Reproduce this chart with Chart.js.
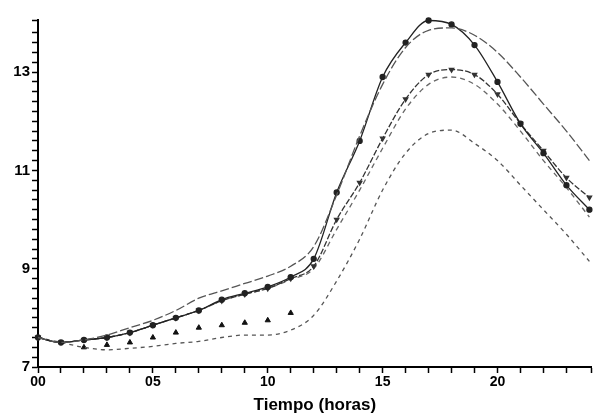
<!DOCTYPE html>
<html>
<head>
<meta charset="utf-8">
<script src="https://cdn.jsdelivr.net/npm/chart.js@4/dist/chart.umd.min.js"></script>
<style>
  html, body { margin: 0; padding: 0; background: #fff; }
  #wrap { width: 597px; height: 416px; }
</style>
</head>
<body>
<div id="wrap"><canvas id="chart"></canvas></div>
<script>
// horas del dia
let hours = [0,1,2,3,4,5,6,7,8,9,10,11,12,13,14,15,16,17,18,19,20,21,22,23,24];

// series
let topDashed = [7.6,7.5,7.55,7.65,7.8,7.95,8.15,8.4,8.55,8.7,8.85,9.05,9.45,10.5,11.7,12.75,13.5,13.85,13.9,13.75,13.4,12.9,12.35,11.8,11.2];
let markedA = [7.6,7.5,7.55,7.6,7.7,7.85,8.0,8.15,8.37,8.5,8.63,8.83,9.2,10.55,11.6,12.9,13.6,14.05,13.97,13.55,12.8,11.95,11.35,10.7,10.2];
let markedB = [7.6,7.5,7.55,7.6,7.7,7.85,8.0,8.15,8.35,8.48,8.6,8.8,9.05,10.0,10.75,11.65,12.45,12.95,13.05,12.95,12.55,11.95,11.4,10.85,10.45];
let dashedB = [7.6,7.5,7.55,7.6,7.7,7.85,8.0,8.15,8.35,8.48,8.6,8.78,9.0,9.8,10.6,11.45,12.25,12.75,12.9,12.75,12.35,11.8,11.2,10.65,10.05];
let lowDashed = [7.6,7.5,7.4,7.35,7.38,7.42,7.48,7.52,7.6,7.65,7.65,7.75,8.05,8.75,9.6,10.6,11.35,11.75,11.82,11.55,11.2,10.7,10.2,9.7,9.15];
let triHours = [2,3,4,5,6,7,8,9,10,11];
let triValues = [7.4,7.45,7.5,7.6,7.7,7.8,7.85,7.9,7.95,8.1];

let xLabels = ["00","05","10","15","20"];
let yLabels = [7,9,11,13];

function pts(xs, ys) {
  return xs.map((x, i) => ({ x: x, y: ys[i] }));
}

function lineSet(values, dash, color, marker) {
  return {
    data: pts(hours, values),
    borderColor: color,
    backgroundColor: color,
    borderWidth: 1.3,
    borderDash: dash,
    cubicInterpolationMode: "monotone",
    pointRadius: marker ? 2.5 : 0,
    pointStyle: marker || "circle",
    pointRotation: marker === "triangle" ? 180 : 0,
    clip: false,
    fill: false
  };
}

const ctx = document.getElementById("chart");
new Chart(ctx, {
  type: "line",
  data: {
    datasets: [
      lineSet(topDashed, [9, 3], "#555", null),
      lineSet(markedA, [], "#222", "circle"),
      lineSet(markedB, [6, 2], "#333", "triangle"),
      lineSet(dashedB, [5, 4], "#666", null),
      lineSet(lowDashed, [4, 4], "#555", null),
      {
        data: pts(triHours, triValues),
        showLine: false,
        pointStyle: "triangle",
        pointRadius: 3,
        borderColor: "#111",
        backgroundColor: "#111"
      }
    ]
  },
  options: {
    responsive: true,
    maintainAspectRatio: false,
    animation: false,
    layout: { padding: { top: 20, right: 0, left: 0, bottom: 0 } },
    plugins: { legend: { display: false }, tooltip: { enabled: false } },
    scales: {
      x: {
        type: "linear",
        min: 0,
        max: 24.1,
        afterFit: (s) => { s.height = 49; },
        border: { color: "#000", width: 2 },
        grid: { drawOnChartArea: false, tickLength: 6, tickColor: "#000", tickWidth: 1.5 },
        ticks: {
          stepSize: 1,
          autoSkip: false,
          maxRotation: 0,
          padding: 1,
          color: "#000",
          font: { family: "Liberation Sans", size: 14, weight: "bold" },
          callback: (v) => {
            let idx = xLabels.indexOf(String(Math.round(v)).padStart(2, "0"));
            return (Math.abs(v - Math.round(v)) < 1e-6 && idx >= 0) ? xLabels[idx] : "";
          }
        },
        title: {
          display: true,
          text: "Tiempo (horas)",
          color: "#000",
          padding: { top: 0, bottom: 0 },
          font: { family: "Liberation Sans", size: 17, weight: "bold" }
        }
      },
      y: {
        min: 7,
        max: 14.06,
        afterFit: (s) => { s.width = 38; },
        border: { color: "#000", width: 2 },
        grid: { drawOnChartArea: false, tickLength: 6, tickColor: "#000", tickWidth: 1.5 },
        ticks: {
          stepSize: 0.2,
          autoSkip: false,
          padding: 2,
          color: "#000",
          font: { family: "Liberation Sans", size: 15, weight: "bold" },
          callback: (v) => {
            let r = Math.round(v);
            return (Math.abs(v - r) < 1e-6 && yLabels.includes(r)) ? String(r) : "";
          }
        }
      }
    }
  }
});
</script>
</body>
</html>
